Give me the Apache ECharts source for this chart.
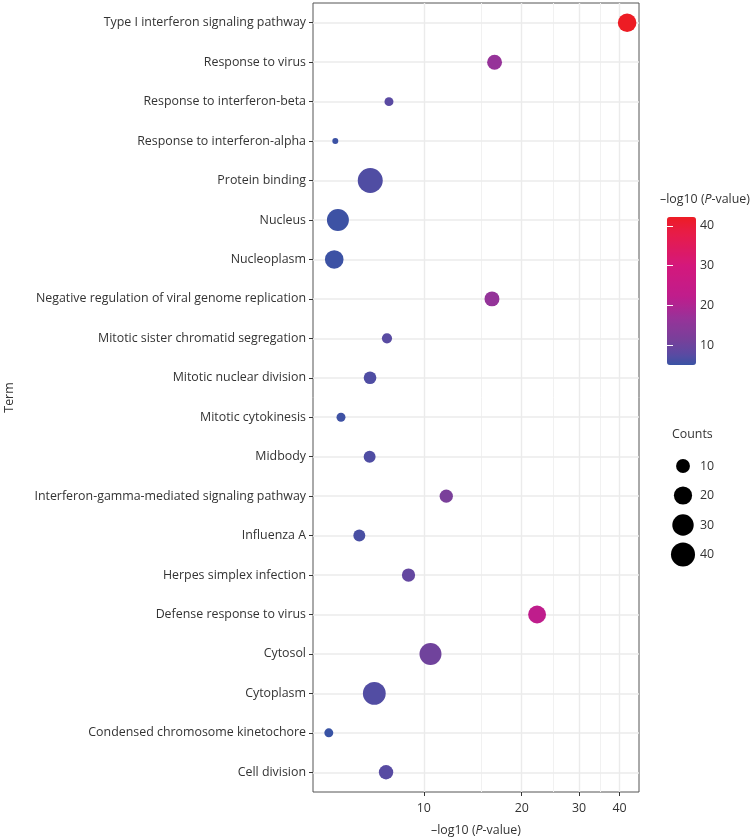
<!DOCTYPE html>
<html>
<head>
<meta charset="utf-8">
<script src="https://cdn.jsdelivr.net/npm/echarts@6/dist/echarts.min.js"></script>
<style>
html,body{margin:0;padding:0;background:#fff;}
#chart{width:751px;height:838px;}
</style>
</head>
<body>
<div id="chart"></div>
<script>
// ---- data ----
const terms = [
  'Type I interferon signaling pathway',
  'Response to virus',
  'Response to interferon-beta',
  'Response to interferon-alpha',
  'Protein binding',
  'Nucleus',
  'Nucleoplasm',
  'Negative regulation of viral genome replication',
  'Mitotic sister chromatid segregation',
  'Mitotic nuclear division',
  'Mitotic cytokinesis',
  'Midbody',
  'Interferon-gamma-mediated signaling pathway',
  'Influenza A',
  'Herpes simplex infection',
  'Defense response to virus',
  'Cytosol',
  'Cytoplasm',
  'Condensed chromosome kinetochore',
  'Cell division'
];
const logP = [42.2, 16.5, 7.81, 5.34, 6.84, 5.44, 5.30, 16.2, 7.70, 6.83, 5.56, 6.81, 11.72, 6.33, 8.97, 22.3, 10.48, 7.04, 5.10, 7.65];
const counts = [21, 12, 4, 3, 44, 32, 21, 12, 5, 8, 4, 7, 9, 7, 9, 19, 32, 35, 4, 11];
const xTickLabels = [10, 20, 30, 40];
const xMinorBreaks = [15, 25, 35];
const sizeLegendValues = [10, 20, 30, 40];
const colorTickLabels = [10, 20, 30, 40];

// ---- styles / helpers ----
const FONT = 'Open Sans';
const TEXT = '#333333';
const cMin = Math.min(...counts), cMax = Math.max(...counts);
const dMin = 6, dMax = 25;
function sizeOf(c) {
  const t = Math.max(0, (c - cMin) / (cMax - cMin));
  return dMin + (dMax - dMin) * Math.sqrt(t);
}
const pMin = Math.min(...logP), pMax = Math.max(...logP);

// colour ramp (position along the colour bar -> colour)
const rampStops = [
  [0.00, '#3953a4'],
  [0.07, '#5a4aa2'],
  [0.18, '#7a3f9a'],
  [0.31, '#963399'],
  [0.46, '#bf1d8c'],
  [0.67, '#d4187c'],
  [0.90, '#e81c45'],
  [1.00, '#ed1c24']
];
function hexToRgb(h){h=h.replace('#','');return [0,2,4].map(i=>parseInt(h.substr(i,2),16));}
function rampAt(t){
  for(let i=1;i<rampStops.length;i++){
    if(t<=rampStops[i][0]){
      const a=rampStops[i-1], b=rampStops[i];
      const u=(t-a[0])/(b[0]-a[0]);
      const ca=hexToRgb(a[1]), cb=hexToRgb(b[1]);
      return '#'+ca.map((v,k)=>Math.round(v+(cb[k]-v)*u).toString(16).padStart(2,'0')).join('');
    }
  }
  return rampStops[rampStops.length-1][1];
}
const gradStops=[];
for(let i=0;i<=40;i++){gradStops.push(rampAt(i/40));}

const scatterData = terms.map((t,i)=>[logP[i], t, counts[i]]);

// grid geometry
const G = {left:313, top:3, width:326, height:789};

const gridLineData = []
  .concat(xTickLabels.map(v=>({xAxis:v, lineStyle:{color:'#ebebeb', width:1.4, type:'solid'}})))
  .concat(xMinorBreaks.map(v=>({xAxis:v, lineStyle:{color:'#f1f1f1', width:1, type:'solid'}})))
  .concat(terms.map(t=>({yAxis:t, lineStyle:{color:'#ebebeb', width:1.6, type:'solid'}})));

// counts legend graphics
const sizeLegend = [];
sizeLegend.push({type:'text', left:672, top:428, style:{text:'Counts', font:'12.4px "Open Sans"', fill:TEXT}});
sizeLegendValues.forEach((v,i)=>{
  const cy = 466 + i*29.5;
  const r = sizeOf(v)/2;
  sizeLegend.push({type:'circle', shape:{cx:683, cy:cy, r:r}, style:{fill:'#000'}});
  sizeLegend.push({type:'text', x:700, y:cy, style:{text:String(v), font:'12.4px "Open Sans"', fill:TEXT, verticalAlign:'middle', align:'left'}});
});

const option = {
  animation:false,
  backgroundColor:'#ffffff',
  textStyle:{fontFamily:FONT},
  grid:[
    {left:G.left, top:G.top, width:G.width, height:G.height, show:true, borderColor:'#555555', borderWidth:1, backgroundColor:'transparent', containLabel:false, outerBoundsMode:'none'},
    {left:667, top:217, width:29, height:148, show:false, outerBoundsMode:'none'}
  ],
  xAxis:[
    {type:'log', logBase:10, gridIndex:0, min:4.56, max:45.9,
     axisLine:{show:false},
     axisTick:{show:true, length:4, lineStyle:{color:TEXT, width:1}, customValues:xTickLabels},
     axisLabel:{color:TEXT, fontSize:12.4, fontFamily:FONT, margin:10, customValues:xTickLabels, formatter:v=>String(Math.round(v))},
     splitLine:{show:false}, minorSplitLine:{show:false},
     name:'–log10 ({i|P}-value)', nameLocation:'middle', nameGap:32,
     nameTextStyle:{color:TEXT, fontSize:12.4, fontFamily:FONT, rich:{i:{fontStyle:'italic', fontSize:12.4, fontFamily:FONT, color:TEXT}}}
    },
    {type:'value', gridIndex:1, show:false, min:0, max:1}
  ],
  yAxis:[
    {type:'category', gridIndex:0, data:terms, inverse:true, boundaryGap:true,
     axisLine:{show:false},
     axisTick:{show:true, alignWithLabel:true, length:4, lineStyle:{color:TEXT, width:1}},
     axisLabel:{color:TEXT, fontSize:12.4, fontFamily:FONT, margin:7},
     splitLine:{show:false},
     name:'Term', nameLocation:'middle', nameRotate:90, nameGap:298,
     nameTextStyle:{color:TEXT, fontSize:12.4, fontFamily:FONT}
    },
    {type:'value', gridIndex:1, position:'right', min:pMin, max:pMax, z:10,
     axisLine:{show:false},
     axisTick:{show:true, inside:true, length:6, lineStyle:{color:'#ffffff', width:1}, customValues:colorTickLabels},
     axisLabel:{show:true, color:TEXT, fontSize:12.4, fontFamily:FONT, margin:4, customValues:colorTickLabels},
     splitLine:{show:false}
    },
    {type:'value', gridIndex:1, position:'left', min:pMin, max:pMax, z:10,
     axisLine:{show:false},
     axisTick:{show:true, inside:true, length:6, lineStyle:{color:'#ffffff', width:1}, customValues:colorTickLabels},
     axisLabel:{show:false},
     splitLine:{show:false}
    }
  ],
  visualMap:{
    type:'continuous', seriesIndex:1, dimension:0, min:pMin, max:pMax,
    inRange:{color:gradStops},
    show:true, calculable:false, orient:'vertical',
    left:667, top:217, itemWidth:29, itemHeight:148, padding:0, text:null, showLabel:false, z:2
  },
  graphic:[
    {type:'text', left:660, top:193, style:{text:'–log10 ({i|P}-value)', font:'12.4px "Open Sans"', fill:TEXT,
      rich:{i:{fontStyle:'italic', font:'italic 12.4px "Open Sans"', fill:TEXT}}}}
  ].concat(sizeLegend),
  series:[
    {type:'scatter', xAxisIndex:0, yAxisIndex:0, data:[], z:1, silent:true,
     markLine:{silent:true, z:1, symbol:['none','none'], label:{show:false}, animation:false, data:gridLineData}},
    {type:'scatter', xAxisIndex:0, yAxisIndex:0, data:scatterData, z:5,
     symbol:'circle', symbolSize:(val)=>sizeOf(val[2]),
     itemStyle:{opacity:1}}
  ]
};
const chart = echarts.init(document.getElementById('chart'), null, {renderer:'canvas'});
chart.setOption(option);
</script>
</body>
</html>
